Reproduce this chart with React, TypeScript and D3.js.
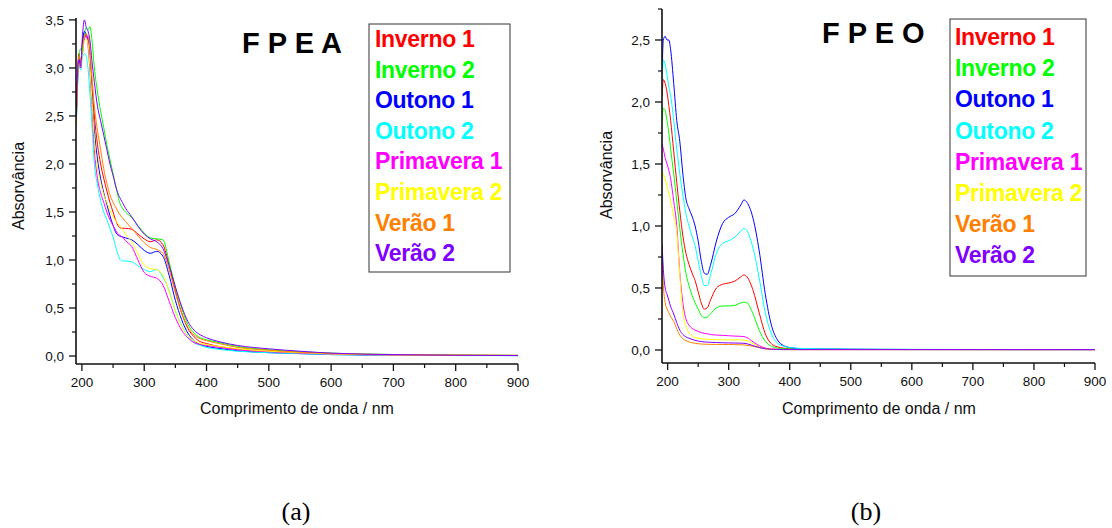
import * as d3 from "d3";

// series shared by both panels
const SERIES_NAMES = [
  "Inverno 1",
  "Inverno 2",
  "Outono 1",
  "Outono 2",
  "Primavera 1",
  "Primavera 2",
  "Verão 1",
  "Verão 2",
];
const SERIES_COLORS = [
  "#ff0000",
  "#00ff00",
  "#0000ff",
  "#00ffff",
  "#ff00ff",
  "#ffff00",
  "#ff8000",
  "#8000ff",
];

// ---- FPEA (a) ----
const WL_A = [191, 193, 195, 198, 201, 204, 207, 210, 213, 216, 220, 225, 230, 235, 240, 245, 250, 255, 260, 265, 270, 280, 290, 300, 310, 320, 330, 340, 350, 360, 370, 380, 390, 400, 420, 450, 500, 550, 600, 700, 800, 900];
const A_INVERNO1 = [2.48, 2.92, 3.15, 3.05, 3.25, 3.36, 3.32, 3.3, 3.1, 2.82, 2.5, 2.2, 2.0, 1.85, 1.72, 1.6, 1.5, 1.4, 1.34, 1.33, 1.33, 1.32, 1.27, 1.22, 1.19, 1.21, 1.16, 0.95, 0.68, 0.45, 0.29, 0.2, 0.15, 0.13, 0.1, 0.07, 0.045, 0.03, 0.02, 0.012, 0.008, 0.006];
const A_INVERNO2 = [2.4, 2.85, 3.1, 3.2, 3.15, 3.35, 3.42, 3.4, 3.43, 3.3, 3.0, 2.75, 2.55, 2.38, 2.2, 2.05, 1.9, 1.75, 1.61, 1.54, 1.5, 1.44, 1.36, 1.28, 1.23, 1.22, 1.21, 0.98, 0.72, 0.5, 0.33, 0.24, 0.19, 0.17, 0.14, 0.1, 0.065, 0.045, 0.03, 0.016, 0.01, 0.007];
const A_OUTONO1 = [2.45, 2.9, 3.1, 3.0, 3.28, 3.38, 3.35, 3.28, 3.05, 2.72, 2.35, 2.05, 1.85, 1.7, 1.58, 1.46, 1.36, 1.28, 1.25, 1.24, 1.23, 1.21, 1.16, 1.1, 1.07, 1.09, 1.04, 0.84, 0.58, 0.38, 0.24, 0.16, 0.12, 0.1, 0.08, 0.055, 0.035, 0.025, 0.015, 0.009, 0.006, 0.005];
const A_OUTONO2 = [2.4, 2.8, 3.02, 2.98, 3.12, 3.15, 3.12, 2.98, 2.72, 2.42, 2.0, 1.78, 1.62, 1.5, 1.42, 1.33, 1.24, 1.12, 1.02, 0.99, 0.99, 0.98, 0.94, 0.9, 0.88, 0.9, 0.82, 0.68, 0.47, 0.32, 0.21, 0.14, 0.11, 0.09, 0.07, 0.05, 0.035, 0.025, 0.015, 0.008, 0.005, 0.004];
const A_PRIMAVERA1 = [2.45, 2.85, 3.08, 3.0, 3.22, 3.3, 3.34, 3.22, 2.95, 2.62, 2.15, 1.85, 1.7, 1.6, 1.5, 1.42, 1.36, 1.3, 1.26, 1.24, 1.2, 1.14, 1.0, 0.87, 0.83, 0.81, 0.74, 0.57, 0.4, 0.27, 0.19, 0.14, 0.12, 0.11, 0.09, 0.065, 0.045, 0.03, 0.02, 0.01, 0.006, 0.005];
const A_PRIMAVERA2 = [2.42, 2.88, 3.05, 3.02, 3.2, 3.28, 3.3, 3.25, 3.0, 2.68, 2.25, 1.95, 1.8, 1.68, 1.6, 1.52, 1.45, 1.4, 1.36, 1.32, 1.27, 1.19, 1.06, 0.95, 0.91, 0.9, 0.84, 0.67, 0.47, 0.31, 0.21, 0.16, 0.13, 0.12, 0.1, 0.075, 0.05, 0.035, 0.022, 0.012, 0.008, 0.006];
const A_VERAO1 = [2.45, 2.9, 3.12, 3.08, 3.22, 3.32, 3.35, 3.33, 3.18, 2.92, 2.6, 2.35, 2.15, 1.95, 1.8, 1.68, 1.6, 1.54, 1.48, 1.44, 1.4, 1.33, 1.25, 1.18, 1.13, 1.11, 1.07, 0.9, 0.66, 0.45, 0.3, 0.22, 0.18, 0.16, 0.13, 0.09, 0.06, 0.04, 0.027, 0.014, 0.009, 0.007];
const A_VERAO2 = [2.5, 2.95, 3.08, 3.02, 3.35, 3.5, 3.42, 3.38, 3.28, 3.08, 2.85, 2.6, 2.45, 2.3, 2.15, 2.0, 1.88, 1.75, 1.66, 1.6, 1.54, 1.45, 1.35, 1.27, 1.22, 1.19, 1.12, 0.94, 0.72, 0.52, 0.36, 0.27, 0.22, 0.19, 0.15, 0.11, 0.075, 0.05, 0.03, 0.015, 0.008, 0.005];

// ---- FPEO (b) ----
const WL_B = [191, 193, 196, 199, 202, 205, 210, 215, 220, 225, 230, 235, 240, 245, 250, 255, 260, 265, 270, 280, 290, 300, 310, 320, 325, 330, 340, 350, 360, 370, 380, 390, 400, 420, 450, 500, 550, 600, 700, 800, 900];
const B_INVERNO1 = [2.05, 2.18, 2.15, 2.08, 1.97, 1.85, 1.6, 1.35, 1.12, 0.92, 0.78, 0.69, 0.62, 0.56, 0.47, 0.38, 0.33, 0.34, 0.4, 0.5, 0.53, 0.54, 0.555, 0.59, 0.605, 0.59, 0.48, 0.3, 0.13, 0.05, 0.025, 0.015, 0.01, 0.008, 0.006, 0.005, 0.004, 0.004, 0.003, 0.003, 0.003];
const B_INVERNO2 = [1.85, 1.95, 1.93, 1.85, 1.75, 1.62, 1.42, 1.2, 0.98, 0.78, 0.62, 0.52, 0.44, 0.38, 0.33, 0.28, 0.26, 0.265, 0.29, 0.34, 0.355, 0.355, 0.36, 0.38, 0.385, 0.38, 0.29, 0.16, 0.07, 0.03, 0.015, 0.01, 0.008, 0.006, 0.005, 0.004, 0.004, 0.003, 0.003, 0.003, 0.003];
const B_OUTONO1 = [2.25, 2.5, 2.53, 2.5, 2.5, 2.42, 2.15, 1.85, 1.68, 1.42, 1.22, 1.14, 1.08, 1.0, 0.88, 0.72, 0.62, 0.61, 0.68, 0.88, 1.02, 1.07, 1.1, 1.17, 1.21, 1.19, 1.06, 0.8, 0.45, 0.2, 0.08, 0.035, 0.02, 0.01, 0.008, 0.006, 0.005, 0.004, 0.004, 0.003, 0.003];
const B_OUTONO2 = [2.15, 2.34, 2.3, 2.22, 2.12, 2.05, 1.85, 1.62, 1.42, 1.25, 1.1, 1.0, 0.92, 0.84, 0.72, 0.6, 0.52, 0.52, 0.6, 0.78, 0.86, 0.88, 0.91, 0.96, 0.98, 0.96, 0.82, 0.58, 0.3, 0.13, 0.055, 0.03, 0.02, 0.012, 0.009, 0.007, 0.006, 0.005, 0.004, 0.004, 0.003];
const B_PRIMAVERA1 = [1.66, 1.62, 1.55, 1.5, 1.45, 1.38, 1.2, 1.0, 0.62, 0.38, 0.25, 0.2, 0.175, 0.16, 0.15, 0.14, 0.135, 0.13, 0.125, 0.12, 0.118, 0.115, 0.112, 0.11, 0.108, 0.1, 0.065, 0.035, 0.015, 0.008, 0.005, 0.004, 0.004, 0.003, 0.003, 0.003, 0.003, 0.003, 0.003, 0.003, 0.003];
const B_PRIMAVERA2 = [1.44, 1.42, 1.38, 1.32, 1.26, 1.2, 1.08, 0.95, 0.6, 0.3, 0.19, 0.14, 0.115, 0.1, 0.095, 0.09, 0.088, 0.085, 0.085, 0.083, 0.082, 0.082, 0.082, 0.082, 0.08, 0.075, 0.05, 0.025, 0.01, 0.006, 0.004, 0.004, 0.003, 0.003, 0.003, 0.003, 0.003, 0.003, 0.003, 0.003, 0.003];
const B_VERAO1 = [0.72, 0.52, 0.38, 0.33, 0.3, 0.27, 0.23, 0.17, 0.12, 0.09, 0.075, 0.065, 0.058, 0.054, 0.05, 0.048, 0.047, 0.046, 0.045, 0.045, 0.044, 0.044, 0.043, 0.042, 0.041, 0.038, 0.03, 0.02, 0.01, 0.006, 0.004, 0.003, 0.003, 0.003, 0.003, 0.003, 0.003, 0.003, 0.003, 0.003, 0.003];
const B_VERAO2 = [0.85, 0.65, 0.5, 0.45, 0.4, 0.35, 0.29, 0.22, 0.16, 0.125, 0.105, 0.095, 0.085, 0.078, 0.072, 0.068, 0.065, 0.063, 0.062, 0.06, 0.058, 0.057, 0.056, 0.055, 0.054, 0.05, 0.035, 0.02, 0.01, 0.006, 0.004, 0.003, 0.003, 0.003, 0.003, 0.003, 0.003, 0.003, 0.003, 0.003, 0.003];

const X_MAJOR = [200, 300, 400, 500, 600, 700, 800, 900];
const X_MINOR = [250, 350, 450, 550, 650, 750, 850];

const SANS = "'Liberation Sans', Arial, sans-serif";
const SERIF = "'Liberation Serif', 'Times New Roman', serif";

interface PanelProps {
  id: string;
  title: string;
  wl: number[];
  series: number[][];
  xDomain: [number, number];
  xRange: [number, number];
  yDomain: [number, number];
  yRange: [number, number];
  yMajor: number[];
  yMinor: number[];
  titlePos: [number, number];
  legendBox: [number, number, number, number];
  legendText: [number, number, number];
  yTitlePos: [number, number];
  xTitlePos: [number, number];
}

function Panel(p: PanelProps) {
  const x = d3.scaleLinear().domain(p.xDomain).range(p.xRange);
  const y = d3.scaleLinear().domain(p.yDomain).range(p.yRange);
  const x0 = p.xRange[0];
  const x1 = p.xRange[1];
  const yb = p.yRange[0];
  const yt = p.yRange[1];

  const line = d3
    .line<number>()
    .x((_, i) => x(p.wl[i]))
    .y((d) => y(d))
    .curve(d3.curveMonotoneX);

  const fmt = (v: number) => d3.format(".1f")(v).replace(".", ",");

  return (
    <g>
      <defs>
        <clipPath id={`clip-${p.id}`}>
          <rect x={x0} y={yt} width={x1 - x0} height={yb - yt} />
        </clipPath>
      </defs>

      {/* curves */}
      <g clipPath={`url(#clip-${p.id})`}>
        {p.series.map((vals, i) => (
          <path
            key={SERIES_NAMES[i]}
            d={line(vals) || ""}
            fill="none"
            stroke={SERIES_COLORS[i]}
            strokeWidth={1}
          />
        ))}
      </g>

      {/* axes */}
      <line x1={x0} x2={x0} y1={yt} y2={yb} stroke="#111" strokeWidth={1.6} />
      <line x1={x0} x2={x1} y1={yb} y2={yb} stroke="#111" strokeWidth={1.6} />

      {p.yMajor.map((v) => (
        <g key={`ym${v}`}>
          <line x1={x0 - 7} x2={x0} y1={y(v)} y2={y(v)} stroke="#111" strokeWidth={1.3} />
          <text
            x={x0 - 12}
            y={y(v) + 4.8}
            textAnchor="end"
            fontSize={13.5}
            fontFamily={SANS}
            fill="#111"
          >
            {fmt(v)}
          </text>
        </g>
      ))}
      {p.yMinor.map((v) => (
        <line key={`yn${v}`} x1={x0 - 4} x2={x0} y1={y(v)} y2={y(v)} stroke="#111" strokeWidth={1.2} />
      ))}

      {X_MAJOR.map((v) => (
        <g key={`xm${v}`}>
          <line x1={x(v)} x2={x(v)} y1={yb} y2={yb + 7} stroke="#111" strokeWidth={1.3} />
          <text
            x={x(v)}
            y={yb + 23}
            textAnchor="middle"
            fontSize={13.5}
            fontFamily={SANS}
            fill="#111"
          >
            {v}
          </text>
        </g>
      ))}
      {X_MINOR.map((v) => (
        <line key={`xn${v}`} x1={x(v)} x2={x(v)} y1={yb} y2={yb + 4} stroke="#111" strokeWidth={1.2} />
      ))}

      {/* axis titles */}
      <text
        x={p.xTitlePos[0]}
        y={p.xTitlePos[1]}
        textAnchor="middle"
        fontSize={16}
        fontFamily={SANS}
        fill="#111"
      >
        Comprimento de onda / nm
      </text>
      <text
        transform={`translate(${p.yTitlePos[0]}, ${p.yTitlePos[1]}) rotate(-90)`}
        textAnchor="middle"
        fontSize={16}
        fontFamily={SANS}
        fill="#111"
      >
        Absorvância
      </text>

      {/* title */}
      <text
        x={p.titlePos[0]}
        y={p.titlePos[1]}
        fontSize={29}
        fontWeight="bold"
        fontFamily={SANS}
        fill="#000"
      >
        {p.title}
      </text>

      {/* legend */}
      <rect
        x={p.legendBox[0]}
        y={p.legendBox[1]}
        width={p.legendBox[2]}
        height={p.legendBox[3]}
        fill="none"
        stroke="#333"
        strokeWidth={1}
      />
      {SERIES_NAMES.map((name, i) => (
        <text
          key={name}
          x={p.legendText[0]}
          y={p.legendText[1] + i * p.legendText[2]}
          fontSize={23}
          fontWeight="bold"
          letterSpacing={-0.3}
          fontFamily={SANS}
          fill={SERIES_COLORS[i]}
        >
          {name}
        </text>
      ))}
    </g>
  );
}

export default function App() {
  return (
    <>
      <style>{`body{margin:0}`}</style>
      <svg width={1112} height={528} style={{ display: "block", background: "#fff" }}>
        <Panel
          id="a"
          title="F P E A"
          wl={WL_A}
          series={[A_INVERNO1, A_INVERNO2, A_OUTONO1, A_OUTONO2, A_PRIMAVERA1, A_PRIMAVERA2, A_VERAO1, A_VERAO2]}
          xDomain={[190.5, 900]}
          xRange={[76, 518]}
          yDomain={[-0.083, 3.52]}
          yRange={[364, 18]}
          yMajor={[0, 0.5, 1, 1.5, 2, 2.5, 3, 3.5]}
          yMinor={[0.25, 0.75, 1.25, 1.75, 2.25, 2.75, 3.25]}
          titlePos={[242, 53]}
          legendBox={[369, 24, 141, 248]}
          legendText={[375, 47, 30.6]}
          yTitlePos={[24, 186]}
          xTitlePos={[297, 414]}
        />
        <Panel
          id="b"
          title="F P E O"
          wl={WL_B}
          series={[B_INVERNO1, B_INVERNO2, B_OUTONO1, B_OUTONO2, B_PRIMAVERA1, B_PRIMAVERA2, B_VERAO1, B_VERAO2]}
          xDomain={[190.8, 900]}
          xRange={[662, 1095]}
          yDomain={[-0.105, 2.75]}
          yRange={[363, 9]}
          yMajor={[0, 0.5, 1, 1.5, 2, 2.5]}
          yMinor={[0.25, 0.75, 1.25, 1.75, 2.25, 2.75]}
          titlePos={[822, 43]}
          legendBox={[950, 19, 136, 257]}
          legendText={[955, 45, 31.2]}
          yTitlePos={[612, 175]}
          xTitlePos={[879, 414]}
        />
        <text x={296} y={520} textAnchor="middle" fontSize={26} fontFamily={SERIF}>
          (a)
        </text>
        <text x={866} y={520} textAnchor="middle" fontSize={26} fontFamily={SERIF}>
          (b)
        </text>
      </svg>
    </>
  );
}
